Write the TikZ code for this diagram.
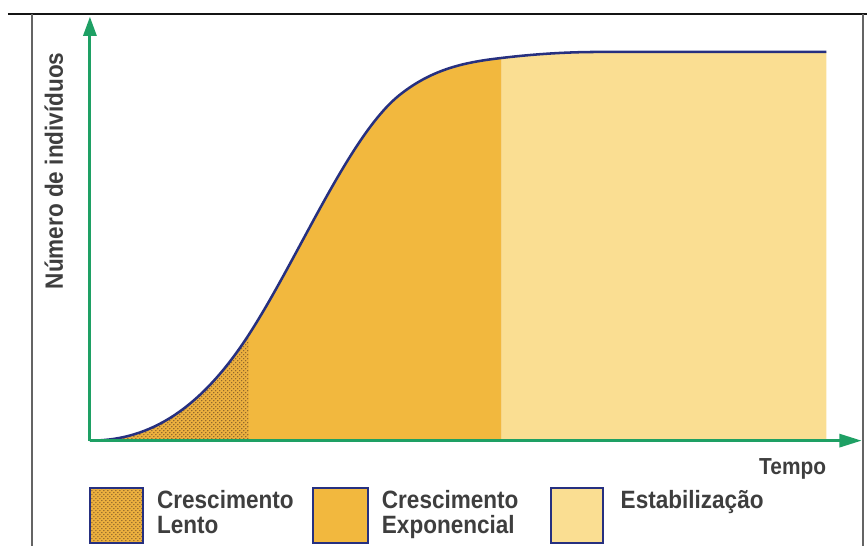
\documentclass[tikz,border=0pt]{standalone}
\usepackage{fontspec}
\setmainfont{Liberation Sans}
\newfontfamily\chartfont[FakeStretch=0.9]{Liberation Sans}
\usepackage{tikz}
\usetikzlibrary{patterns}
\usetikzlibrary{calc}

\definecolor{axisgreen}{RGB}{30,160,100}
\definecolor{curvenavy}{RGB}{38,48,128}
\definecolor{slowfill}{RGB}{236,176,62}
\definecolor{expfill}{RGB}{242,184,62}
\definecolor{stabfill}{RGB}{250,222,146}
\definecolor{grainbrown}{RGB}{115,80,40}
\definecolor{labelgray}{RGB}{62,62,62}

\tikzset{
  labeltext/.style={inner sep=0.75pt, text=labelgray, font=\chartfont\bfseries\fontsize{18.8}{19.5}\selectfont},
  legtext/.style={labeltext, anchor=north west, align=left},
  legbox/.style={draw=curvenavy, line width=1.5}
}

\begin{document}
\begin{tikzpicture}[x=0.75pt,y=0.75pt,yscale=-1,xscale=1]
\path (0,0) rectangle (868,546); %set diagram size to 868 x 546

\coordinate (O) at (90,441);
\coordinate (Ytip) at (90,17);
\coordinate (Yend) at (90,31);
\coordinate (Xtip) at (862,441);
\coordinate (Xend) at (846,441);
\coordinate (Lento) at (249,335);
\coordinate (Expo) at (502,58);
\coordinate (Plateau) at (827,52);

%Straight Lines [id:frame_top]
\draw [color={rgb, 255:red, 20; green, 20; blue, 20 }  ,line width=1.1]   (8,14) -- (868,14) ;
%Straight Lines [id:frame_left]
\draw [color={rgb, 255:red, 100; green, 100; blue, 100 }  ,line width=1.4]   (32,14) -- (32,546) ;
%Straight Lines [id:frame_right]
\draw [color={rgb, 255:red, 100; green, 100; blue, 100 }  ,line width=1.6]   (864,14) -- (864,546) ;

%Shape: slow growth area
\fill [slowfill] (O) .. controls (143,441) and (196,417) .. (Lento) -- (249,441) -- cycle ;
\fill [pattern=crosshatch dots, pattern color=grainbrown] (O) .. controls (143,441) and (196,417) .. (Lento) -- (249,441) -- cycle ;
%Shape: exponential growth area
\fill [expfill] (Lento) .. controls (299.3,257.2) and (349.7,135.1) .. (400,95) .. controls (434,67.9) and (468,62) .. (Expo) -- (502,441) -- (249,441) -- cycle ;
%Shape: stabilization area
\fill [stabfill] (Expo) .. controls (535,54.1) and (567,52) .. (600,52) -- (Plateau) -- (827,441) -- (502,441) -- cycle ;

%Curve Lines [id:growth]
\draw [color=curvenavy ,line width=1.9]  (O) .. controls (143,441) and (196,417) .. (Lento) .. controls (299.3,257.2) and (349.7,135.1) .. (400,95) .. controls (434,67.9) and (468,62) .. (Expo) .. controls (535,54.1) and (567,52) .. (600,52) -- (Plateau) ;

%Straight Lines [id:yaxis]
\draw [color=axisgreen ,line width=2.2]   (O) -- (Yend) ;
\draw [shift={(Ytip)}, rotate = 90] [fill=axisgreen ][line width=0.08]  [draw opacity=0] (19,-7) -- (0,0) -- (19,7) -- cycle    ;
%Straight Lines [id:xaxis]
\draw [color=axisgreen ,line width=2.2]   (O) -- (Xend) ;
\draw [shift={(Xtip)}, rotate = 180] [fill=axisgreen ][line width=0.08]  [draw opacity=0] (22,-7) -- (0,0) -- (22,7) -- cycle    ;

% Text Node
\node (ylabel) [labeltext, rotate=90, anchor=base] at (63,171) {Número de indivíduos};
% Text Node
\node (tempo) [labeltext, anchor=base east, font=\chartfont\bfseries\fontsize{17.4}{19}\selectfont] at (828,475) {Tempo};

%Shape: Rectangle [id:legend_slow]
\fill [slowfill] (90,488) rectangle (143,543) ;
\fill [pattern=crosshatch dots, pattern color=grainbrown] (90,488) rectangle (143,543) ;
\draw [legbox] (90,488) rectangle (143,543) ;
%Shape: Rectangle [id:legend_exp]
\draw [legbox, fill=expfill] (313,488) rectangle (368,543) ;
%Shape: Rectangle [id:legend_stab]
\draw [legbox, fill=stabfill] (551,488) rectangle (604,543) ;

% Text Node
\node (legslow) [legtext] at (156,489) {Crescimento\\Lento};
% Text Node
\node (legexp) [legtext] at (381,489) {Crescimento\\Exponencial};
% Text Node
\node (legstab) [legtext] at (620,489) {Estabilização};

\end{tikzpicture}
\end{document}
